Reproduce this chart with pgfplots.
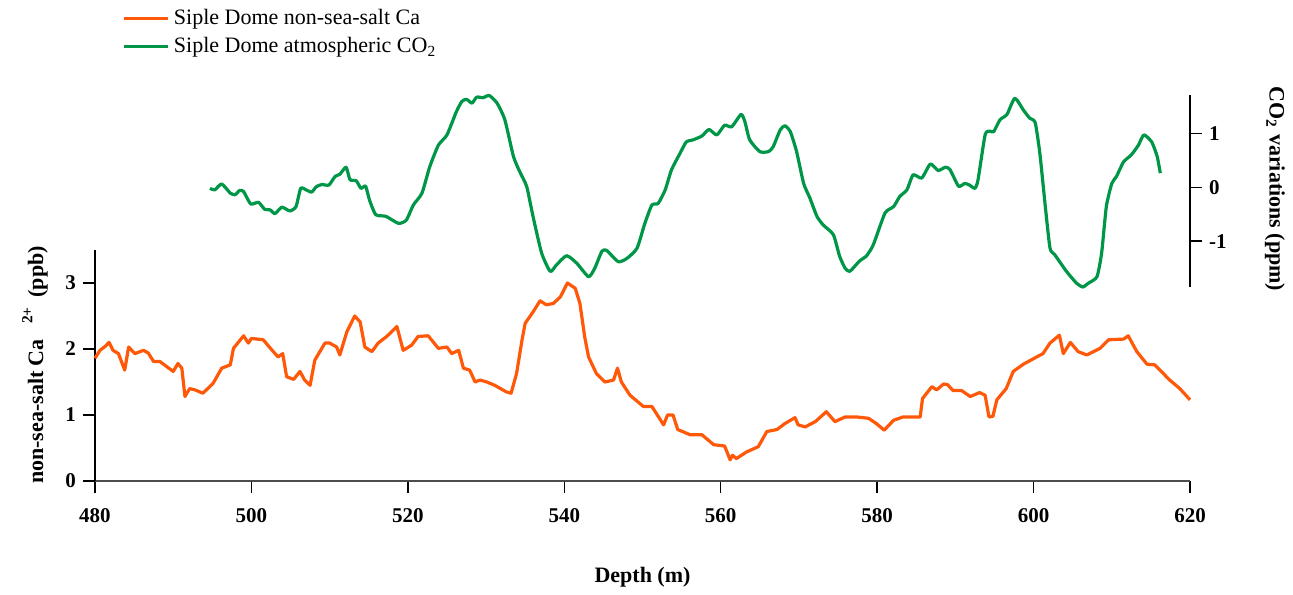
\documentclass[border=0pt]{standalone}
\usepackage{fontspec}
\setmainfont{Liberation Serif}
\usepackage{pgfplots}
\pgfplotsset{compat=1.18}
\definecolor{caorange}{RGB}{255,88,8}
\definecolor{cogreen}{RGB}{0,150,72}

\begin{document}
\begin{tikzpicture}
\useasboundingbox (0,0) rectangle (646.5pt,297pt);
\pgfplotsset{
  every axis/.append style={
    scale only axis, width=547.5pt, xmin=480, xmax=620, clip=false,
    tick align=outside, major tick length=6pt,
    tick style={black, line width=0.7pt},
    tick label style={font=\fontsize{10.5}{12}\selectfont\bfseries},
    label style={font=\fontsize{11}{13}\selectfont\bfseries},
  },
}
% non-sea-salt Ca (lower axis)
\begin{axis}[
  at={(47.5pt,56.5pt)}, anchor=south west, height=115.5pt,
  ymin=0, ymax=3.5,
  axis x line*=bottom, axis y line*=left,
  x axis line style={-, draw=black!70, line width=1.4pt},
  y axis line style={-, black, line width=0.8pt},
  xtick={480,500,...,620}, xticklabels={480,500,520,540,560,580,600,620},
  xticklabel style={yshift=-4pt},
  ytick={0,1,2,3}, yticklabels={0,1,2,3},
  xlabel={Depth (m)},
  xlabel style={at={(axis description cs:0.5,-0.4156)}, anchor=center},
  ylabel={non-sea-salt Ca\hspace{0.7em}\raisebox{0.3ex}{\textsuperscript{2+}}\hspace{0.4em}(ppb)},
  ylabel style={at={(axis description cs:-0.0548,0.502)}, anchor=center, rotate=0},
]
\addplot[caorange, line width=1.6pt, line join=round, mark=none] coordinates {
(480,1.86)(480.64,1.98)(481.3,2.04)(481.8,2.10)(482.3,1.98)(483.0,1.93)(483.8,1.68)(484.3,2.03)
(485.1,1.93)(486.2,1.98)(486.8,1.94)(487.5,1.81)(488.3,1.81)(490.0,1.66)(490.6,1.78)(491.1,1.71)
(491.5,1.28)(492.1,1.40)(492.8,1.38)(493.8,1.33)(495.1,1.48)(496.2,1.71)(497.3,1.76)(497.7,2.01)
(499.0,2.20)(499.6,2.09)(500.0,2.16)(501.5,2.14)(502.8,1.96)(503.4,1.88)(504.0,1.93)(504.5,1.58)
(505.4,1.54)(506.2,1.66)(506.8,1.53)(507.5,1.45)(508.1,1.83)(509.4,2.09)(510.0,2.09)(510.9,2.03)
(511.3,1.91)(512.2,2.26)(513.2,2.50)(513.9,2.41)(514.5,2.03)(515.4,1.96)(516.2,2.09)(517.3,2.19)
(518.6,2.34)(519.4,1.98)(520.5,2.06)(521.3,2.19)(522.6,2.20)(523.9,2.01)(525.0,2.03)(525.6,1.93)
(526.5,1.98)(527.1,1.71)(527.9,1.68)(528.6,1.50)(529.2,1.53)(530.1,1.50)(531.1,1.45)(532.6,1.35)
(533.2,1.33)(533.9,1.63)(534.6,2.14)(535.0,2.39)(536.0,2.56)(536.9,2.73)(537.7,2.67)(538.6,2.69)
(539.5,2.79)(540.4,3.00)(541.4,2.92)(542.0,2.69)(542.6,2.19)(543.1,1.88)(544.1,1.63)(545.2,1.50)
(546.3,1.53)(546.8,1.71)(547.3,1.50)(548.4,1.30)(550.1,1.13)(551.2,1.13)(552.7,0.85)(553.2,1.00)
(553.9,1.00)(554.5,0.78)(556.1,0.70)(557.6,0.70)(559.1,0.55)(560.5,0.53)(561.2,0.32)(561.5,0.39)
(562.0,0.34)(563.3,0.44)(564.8,0.52)(565.9,0.75)(567.2,0.78)(568.2,0.87)(569.5,0.96)(569.9,0.85)
(570.8,0.82)(572.1,0.90)(573.5,1.05)(574.6,0.90)(575.9,0.97)(577.4,0.97)(578.9,0.95)(579.9,0.87)
(580.9,0.77)(582.1,0.92)(583.3,0.97)(585.5,0.97)(585.8,1.25)(587.0,1.43)(587.6,1.38)(588.5,1.47)
(589.0,1.46)(589.7,1.37)(590.8,1.37)(591.9,1.28)(593.1,1.34)(593.8,1.30)(594.3,0.97)(594.8,0.98)
(595.3,1.23)(596.5,1.40)(597.4,1.66)(598.7,1.77)(600.4,1.88)(601.2,1.93)(602.1,2.09)(603.3,2.21)
(603.8,1.93)(604.7,2.10)(605.7,1.96)(606.8,1.91)(608.5,2.01)(609.6,2.14)(611.5,2.15)(612.1,2.20)
(613.2,1.96)(614.5,1.77)(615.5,1.76)(617.4,1.53)(618.7,1.40)(620.0,1.23)
};
\end{axis}
% CO2 variations (upper axis, right scale)
\begin{axis}[
  at={(47.5pt,153.5pt)}, anchor=south west, height=96pt,
  ymin=-1.85, ymax=1.71,
  axis x line=none, axis y line*=right,
  y axis line style={-, black, line width=0.8pt},
  ytick={-1,0,1}, yticklabels={-1,0,1},
  ylabel={CO\textsubscript{2} variations (ppm)},
  ylabel style={at={(axis description cs:1.0776,0.510)}, anchor=center, rotate=-180},
  legend style={at={(axis description cs:0.0246,1.469)}, anchor=north west,
    draw=none, fill=none, font=\fontsize{11}{13}\selectfont,
    row sep=1pt, inner sep=0pt},
  legend cell align=left,
  legend image code/.code={\draw[#1] (0pt,0pt) -- (22pt,0pt);},
]
\addlegendimage{caorange, line width=1.8pt}
\addlegendentry{Siple Dome non-sea-salt Ca}
\addplot[cogreen, line width=1.6pt, line join=round, mark=none, smooth, tension=0.35] coordinates {
(494.7,-0.02)(495.3,-0.05)(496.2,0.06)(497.3,-0.11)(497.9,-0.14)(498.5,-0.06)(499.0,-0.08)(499.9,-0.31)
(500.9,-0.28)(501.7,-0.41)(502.4,-0.42)(503.0,-0.49)(503.9,-0.37)(504.9,-0.44)(505.7,-0.36)(506.3,-0.02)
(507.0,-0.05)(507.7,-0.09)(508.3,0.01)(509.0,0.05)(509.9,0.04)(510.7,0.20)(511.3,0.24)(512.1,0.37)
(512.6,0.14)(513.4,0.12)(514.0,-0.02)(514.6,0.02)(515.1,-0.24)(515.9,-0.51)(517.2,-0.54)(518.8,-0.67)
(519.8,-0.61)(520.7,-0.33)(521.8,-0.11)(522.8,0.38)(523.9,0.78)(525.0,0.97)(526.2,1.40)(526.9,1.59)
(527.5,1.63)(528.2,1.56)(528.8,1.67)(529.6,1.66)(530.4,1.70)(531.4,1.56)(532.4,1.25)(533.5,0.57)
(534.3,0.29)(535.2,0.01)(536.0,-0.54)(537.1,-1.22)(538.2,-1.56)(539.0,-1.44)(540.3,-1.27)(541.6,-1.41)
(543.1,-1.66)(543.9,-1.50)(544.8,-1.19)(545.4,-1.17)(546.9,-1.38)(548.0,-1.32)(549.3,-1.13)(550.3,-0.67)
(551.2,-0.33)(552.0,-0.30)(552.9,-0.05)(553.7,0.32)(554.8,0.63)(555.6,0.84)(556.5,0.88)(557.6,0.95)
(558.5,1.07)(559.5,0.97)(560.5,1.15)(561.4,1.12)(562.6,1.35)(563.1,1.21)(563.7,0.88)(565.0,0.66)
(566.1,0.66)(566.7,0.75)(567.6,1.06)(568.2,1.14)(568.9,1.03)(569.7,0.66)(570.6,0.07)(571.4,-0.20)
(572.3,-0.54)(573.1,-0.70)(574.4,-0.88)(575.2,-1.28)(575.9,-1.50)(576.5,-1.56)(577.8,-1.36)(578.6,-1.28)
(579.5,-1.07)(581.0,-0.48)(582.1,-0.36)(582.9,-0.17)(583.8,-0.05)(584.6,0.23)(585.7,0.17)(586.8,0.43)
(587.8,0.31)(588.7,0.37)(589.3,0.33)(590.4,0.02)(591.2,0.07)(591.8,0.04)(592.5,-0.02)(592.9,0.14)
(593.8,0.97)(594.4,1.04)(594.9,1.03)(595.7,1.25)(596.6,1.35)(597.6,1.65)(598.7,1.43)(599.5,1.28)
(600.2,1.20)(600.8,0.63)(601.5,-0.36)(602.1,-1.13)(602.7,-1.25)(604.2,-1.56)(605.5,-1.78)(606.3,-1.85)
(607.0,-1.78)(608.1,-1.66)(608.7,-1.22)(609.3,-0.36)(610.0,0.07)(610.6,0.20)(611.5,0.47)(612.5,0.60)
(613.4,0.78)(614.1,0.97)(615.1,0.84)(615.8,0.57)(616.2,0.26)
};
\addlegendentry{Siple Dome atmospheric CO\textsubscript{2}}
\end{axis}
\end{tikzpicture}
\end{document}
